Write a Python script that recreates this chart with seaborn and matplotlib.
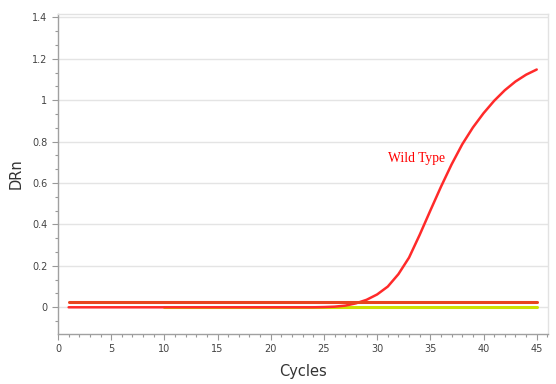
import numpy as np
import pandas as pd
import matplotlib
matplotlib.use("Agg")
import matplotlib.pyplot as plt
import seaborn as sns
from matplotlib.ticker import MultipleLocator

# amplification curve
cycles = list(range(1, 46))
wild_type = [0.0] * 24 + [
    0.001, 0.003, 0.008, 0.019, 0.036, 0.062, 0.1, 0.16, 0.24, 0.35,
    0.467, 0.582, 0.69, 0.787, 0.868, 0.937, 0.997, 1.048, 1.09, 1.123, 1.148,
]
threshold = 0.027
baseline_start = 10

curve_df = pd.DataFrame({"Cycles": cycles, "DRn": wild_type})
thr_df = pd.DataFrame({"Cycles": cycles, "DRn": [threshold] * len(cycles)})
base_cycles = [c for c in cycles if c >= baseline_start]
base_df = pd.DataFrame({"Cycles": base_cycles, "DRn": [0.0] * len(base_cycles)})

sns.set_style("white")
plt.rcParams["font.family"] = ["DejaVu Sans"]

fig = plt.figure(figsize=(5.56, 3.84), dpi=100)
ax = fig.add_axes([0.1043, 0.1302, 0.8813, 0.8333])

sns.lineplot(data=base_df, x="Cycles", y="DRn", ax=ax, color="#cde000", linewidth=2.2)
sns.lineplot(data=curve_df, x="Cycles", y="DRn", ax=ax, color="#ff2a2a", linewidth=1.8,
             solid_joinstyle="round")
sns.lineplot(data=thr_df, x="Cycles", y="DRn", ax=ax, color="#e8441e", linewidth=2.2)

ax.set_xlim(0, 46.06)
ax.set_ylim(-0.129, 1.416)
ax.xaxis.set_major_locator(MultipleLocator(5))
ax.xaxis.set_minor_locator(MultipleLocator(1))
ax.yaxis.set_major_locator(MultipleLocator(0.2))
ax.yaxis.set_minor_locator(MultipleLocator(0.2 / 3))
ax.set_yticks([0, 0.2, 0.4, 0.6, 0.8, 1.0, 1.2, 1.4])
ax.set_yticklabels(["0", "0.2", "0.4", "0.6", "0.8", "1", "1.2", "1.4"])
ax.grid(axis="y", which="major", color="#e4e4e4", linewidth=1)
ax.tick_params(which="both", direction="out", color="#999999", labelsize=7,
               labelcolor="#444444", width=0.8)
ax.tick_params(which="major", length=4)
ax.tick_params(which="minor", length=2.5)
ax.tick_params(axis="x", which="both", bottom=True)
ax.tick_params(axis="y", which="both", left=True)

for side in ["left", "bottom"]:
    ax.spines[side].set_color("#a0a0a0")
    ax.spines[side].set_linewidth(1)
for side in ["top", "right"]:
    ax.spines[side].set_color("#e2e2e2")
    ax.spines[side].set_linewidth(1)

ax.set_xlabel("Cycles", fontsize=10.5, color="#333333", labelpad=7)
ax.set_ylabel("DRn", fontsize=10.5, color="#333333", labelpad=6)

ax.text(31.0, 0.72, "Wild Type", color="red", fontsize=9.8,
        family="Liberation Serif", va="center", ha="left")

fig.savefig("out.png", dpi=100)
